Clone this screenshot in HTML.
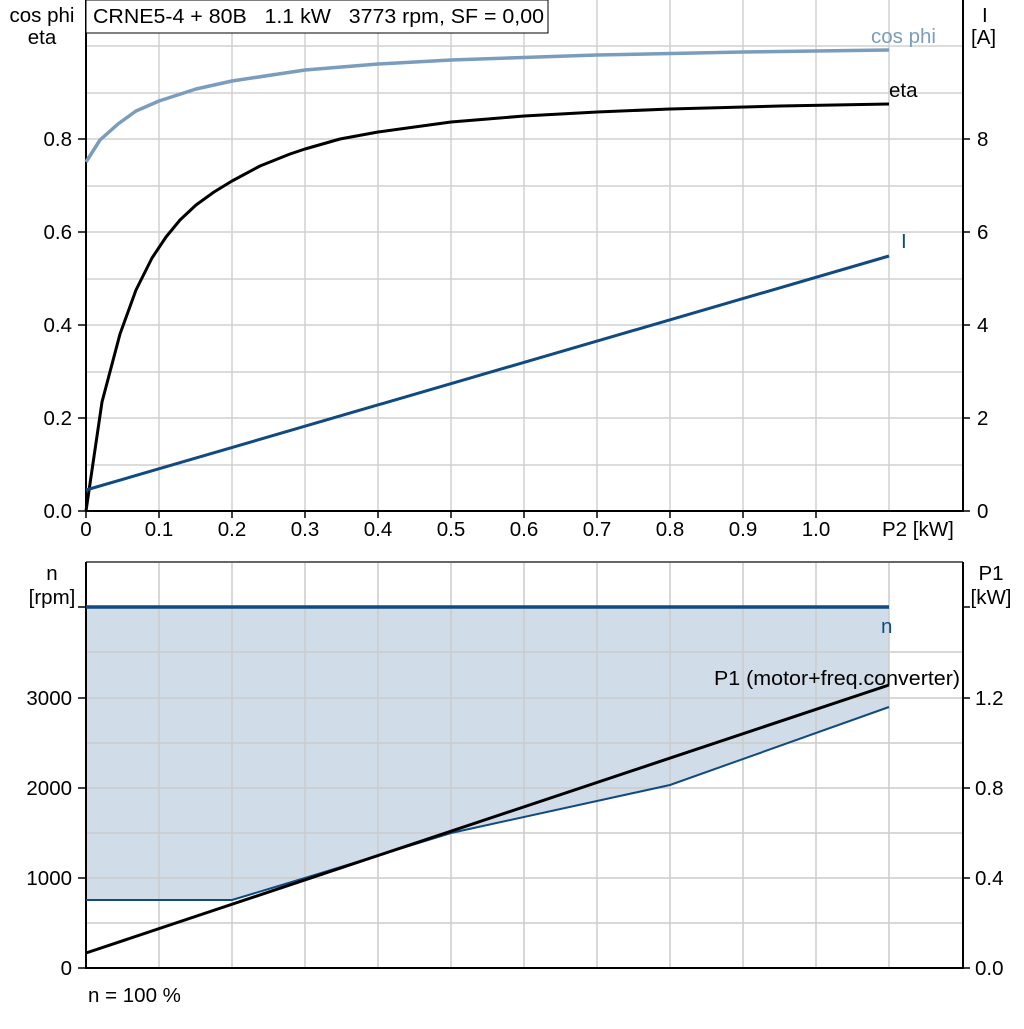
<!DOCTYPE html>
<html><head><meta charset="utf-8"><style>
body{margin:0;background:#fff}
svg text{font-family:"Liberation Sans",Arial,sans-serif;font-size:20.5px;fill:#000;white-space:pre}
</style></head><body>
<svg width="1024" height="1024" viewBox="0 0 1024 1024" xmlns="http://www.w3.org/2000/svg" xml:space="preserve">
<rect width="1024" height="1024" fill="#fff"/>
<g stroke="#d0d0d0" stroke-width="1.5">
<line x1="159" y1="0" x2="159" y2="511"/><line x1="232" y1="0" x2="232" y2="511"/><line x1="305" y1="0" x2="305" y2="511"/><line x1="378" y1="0" x2="378" y2="511"/><line x1="451" y1="0" x2="451" y2="511"/><line x1="524" y1="0" x2="524" y2="511"/><line x1="597" y1="0" x2="597" y2="511"/><line x1="670" y1="0" x2="670" y2="511"/><line x1="743" y1="0" x2="743" y2="511"/><line x1="816" y1="0" x2="816" y2="511"/><line x1="889" y1="0" x2="889" y2="511"/>
<line x1="86" y1="46" x2="963" y2="46"/><line x1="86" y1="93" x2="963" y2="93"/><line x1="86" y1="139" x2="963" y2="139"/><line x1="86" y1="186" x2="963" y2="186"/><line x1="86" y1="232" x2="963" y2="232"/><line x1="86" y1="279" x2="963" y2="279"/><line x1="86" y1="325" x2="963" y2="325"/><line x1="86" y1="372" x2="963" y2="372"/><line x1="86" y1="418" x2="963" y2="418"/><line x1="86" y1="465" x2="963" y2="465"/>
</g>
<polygon points="86,607 889,607 889,707 670,785 451,833 305,878 232,900 86,900" fill="#d0dce8"/>
<g stroke="#cccccc" stroke-width="1.5">
<line x1="159" y1="562" x2="159" y2="968"/><line x1="232" y1="562" x2="232" y2="968"/><line x1="305" y1="562" x2="305" y2="968"/><line x1="378" y1="562" x2="378" y2="968"/><line x1="451" y1="562" x2="451" y2="968"/><line x1="524" y1="562" x2="524" y2="968"/><line x1="597" y1="562" x2="597" y2="968"/><line x1="670" y1="562" x2="670" y2="968"/><line x1="743" y1="562" x2="743" y2="968"/><line x1="816" y1="562" x2="816" y2="968"/><line x1="889" y1="562" x2="889" y2="968"/>
<line x1="86" y1="652" x2="963" y2="652"/><line x1="86" y1="698" x2="963" y2="698"/><line x1="86" y1="743" x2="963" y2="743"/><line x1="86" y1="788" x2="963" y2="788"/><line x1="86" y1="833" x2="963" y2="833"/><line x1="86" y1="878" x2="963" y2="878"/><line x1="86" y1="923" x2="963" y2="923"/>
</g>
<line x1="86" y1="562" x2="963" y2="562" stroke="#666" stroke-width="2"/>
<g stroke="#000" stroke-width="2">
<line x1="86" y1="0" x2="86" y2="512"/><line x1="963" y1="0" x2="963" y2="512"/><line x1="85" y1="511" x2="964" y2="511"/>
<line x1="86" y1="562" x2="86" y2="969"/><line x1="963" y1="562" x2="963" y2="969"/><line x1="85" y1="968" x2="964" y2="968"/>
</g>
<g stroke="#000" stroke-width="1.5">
<line x1="78" y1="139" x2="86" y2="139"/><line x1="78" y1="232" x2="86" y2="232"/><line x1="78" y1="325" x2="86" y2="325"/><line x1="78" y1="418" x2="86" y2="418"/><line x1="78" y1="511" x2="86" y2="511"/>
<line x1="963" y1="139" x2="970" y2="139"/><line x1="963" y1="232" x2="970" y2="232"/><line x1="963" y1="325" x2="970" y2="325"/><line x1="963" y1="418" x2="970" y2="418"/><line x1="963" y1="511" x2="970" y2="511"/>
<line x1="86" y1="511" x2="86" y2="518"/><line x1="159" y1="511" x2="159" y2="518"/><line x1="232" y1="511" x2="232" y2="518"/><line x1="305" y1="511" x2="305" y2="518"/><line x1="378" y1="511" x2="378" y2="518"/><line x1="451" y1="511" x2="451" y2="518"/><line x1="524" y1="511" x2="524" y2="518"/><line x1="597" y1="511" x2="597" y2="518"/><line x1="670" y1="511" x2="670" y2="518"/><line x1="743" y1="511" x2="743" y2="518"/><line x1="816" y1="511" x2="816" y2="518"/>
<line x1="78" y1="607" x2="86" y2="607"/><line x1="78" y1="698" x2="86" y2="698"/><line x1="78" y1="788" x2="86" y2="788"/><line x1="78" y1="878" x2="86" y2="878"/><line x1="78" y1="968" x2="86" y2="968"/>
<line x1="963" y1="607" x2="970" y2="607"/><line x1="963" y1="698" x2="970" y2="698"/><line x1="963" y1="788" x2="970" y2="788"/><line x1="963" y1="878" x2="970" y2="878"/><line x1="963" y1="968" x2="970" y2="968"/>
</g>
<polyline fill="none" stroke="#7b9dbd" stroke-width="3.5" stroke-linejoin="round" points="86,162 100,140 118,124 136,111 159,101 196,89 232,81 305,70 378,64 451,60 597,55 743,52 889,50"/>
<polyline fill="none" stroke="#000" stroke-width="3" stroke-linejoin="round" points="86,511 102,402 120,334 136,290 152,258 166,237 180,220 196,205 214,192 232,181 260,166 290,154 305,149 340,139 378,132 451,122 524,116 597,112 670,109 780,106 889,104"/>
<line x1="86" y1="490" x2="889" y2="256" stroke="#114a80" stroke-width="3"/>
<line x1="86" y1="607" x2="889" y2="607" stroke="#114a80" stroke-width="3.5"/>
<polyline fill="none" stroke="#114a80" stroke-width="2" points="86,900 232,900 305,878 451,833 670,785 889,707"/>
<line x1="86" y1="953" x2="889" y2="685" stroke="#000" stroke-width="3"/>
<rect x="86" y="0" width="462" height="33" fill="#fff" stroke="#000" stroke-width="1"/>
<text x="93" y="23" textLength="451" lengthAdjust="spacingAndGlyphs">CRNE5-4 + 80B   1.1 kW   3773 rpm, SF = 0,00</text>
<text x="42" y="22" text-anchor="middle">cos phi</text>
<text x="42" y="44" text-anchor="middle">eta</text>
<g text-anchor="end">
<text x="72" y="146">0.8</text><text x="72" y="239">0.6</text><text x="72" y="332">0.4</text><text x="72" y="425">0.2</text><text x="72" y="518">0.0</text>
<text x="72" y="705">3000</text><text x="72" y="795">2000</text><text x="72" y="885">1000</text><text x="72" y="975">0</text>
</g>
<text x="982" y="22">I</text><text x="971" y="44">[A]</text>
<g>
<text x="977" y="146">8</text><text x="977" y="239">6</text><text x="977" y="332">4</text><text x="977" y="425">2</text><text x="977" y="518">0</text>
<text x="975" y="705">1.2</text><text x="975" y="795">0.8</text><text x="975" y="885">0.4</text><text x="975" y="975">0.0</text>
</g>
<g text-anchor="middle">
<text x="86" y="536">0</text><text x="159" y="536">0.1</text><text x="232" y="536">0.2</text><text x="305" y="536">0.3</text><text x="378" y="536">0.4</text><text x="451" y="536">0.5</text><text x="524" y="536">0.6</text><text x="597" y="536">0.7</text><text x="670" y="536">0.8</text><text x="743" y="536">0.9</text><text x="816" y="536">1.0</text>
</g>
<text x="882" y="536">P2 [kW]</text>
<text x="871" y="43" style="fill:#7b9dbd">cos phi</text>
<text x="889" y="97">eta</text>
<text x="901" y="248" style="fill:#114a80">I</text>
<text x="52" y="580" text-anchor="middle">n</text><text x="52" y="604" text-anchor="middle">[rpm]</text>
<text x="991" y="580" text-anchor="middle">P1</text><text x="991" y="604" text-anchor="middle">[kW]</text>
<text x="881" y="633" style="fill:#114a80">n</text>
<text x="714" y="685" textLength="246" lengthAdjust="spacingAndGlyphs">P1 (motor+freq.converter)</text>
<text x="88" y="1002">n = 100 %</text>
</svg>
</body></html>
